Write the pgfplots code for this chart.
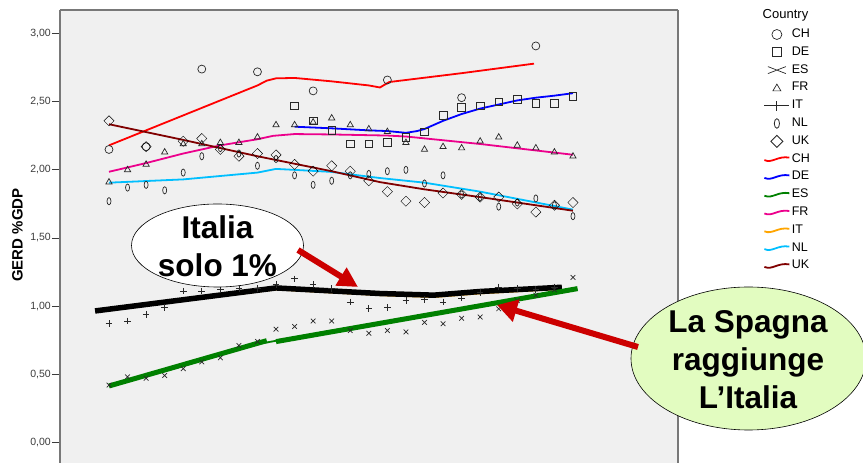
\documentclass[border=0pt]{standalone}
\usepackage{pgfplots}
\pgfplotsset{compat=1.18}
\usepackage{fontspec}
\setmainfont{Liberation Sans}
\usetikzlibrary{arrows.meta}
\definecolor{bgg}{RGB}{240,240,240}
\definecolor{framegray}{RGB}{120,120,120}
\definecolor{mk}{RGB}{40,40,40}
\definecolor{arrred}{RGB}{204,0,0}
\definecolor{eligreen}{RGB}{226,252,192}
\definecolor{nlcyan}{RGB}{0,191,255}
\definecolor{ukred}{RGB}{128,0,0}
\definecolor{esgreen}{RGB}{0,128,0}
\definecolor{itorange}{RGB}{255,165,0}
\definecolor{ticklab}{RGB}{60,60,60}
\pgfdeclareplotmark{zero}{\pgfpathellipse{\pgfpointorigin}{\pgfqpoint{2pt}{0pt}}{\pgfqpoint{0pt}{3.6pt}}\pgfusepathqstroke}
\begin{document}
\begin{tikzpicture}[x=1pt,y=1pt]
\useasboundingbox (0,0) rectangle (863,463);
\begin{axis}[
  at={(60pt,0pt)}, anchor=south west,
  width=618pt, height=453pt, scale only axis,
  xmin=-2.64, xmax=30.66, ymin=-0.1525, ymax=3.174,
  axis x line*=top, axis y line*=box,
  xtick=\empty,
  ytick={0,0.5,1,1.5,2,2.5,3},
  yticklabels={{0,00},{0,50},{1,00},{1,50},{2,00},{2,50},{3,00}},
  ytick pos=left, tick align=outside, major tick length=8pt,
  yticklabel style={font=\fontsize{10.5}{12}\selectfont, text=ticklab, inner sep=1pt},
  every tick/.style={ticklab, line width=0.8pt},
  axis line style={framegray, line width=1.5pt},
  axis background/.style={fill=bgg},
  ylabel={GERD \%GDP},
  ylabel style={at={(axis description cs:-0.0688,0.503)}, anchor=center, font=\fontsize{15}{17}\bfseries},
  clip=false,
  legend style={draw=none, fill=none, at={(axis description cs:1.138,0.966)}, anchor=north west,
    font=\fontsize{12.5}{14}\selectfont, inner sep=0pt, row sep=0pt,
    nodes={inner sep=1.5pt, text height=10.5pt, text depth=4.3pt}},
  legend cell align=left,
  scat/.style={only marks, mark options={draw=mk, line width=0.7pt, fill=none}},
  fit/.style={no marks, line width=1.8pt, line join=round,
    legend image code/.code={\draw[##1] (0pt,-1pt) .. controls (8pt,-4.5pt) and (13pt,3.5pt) .. (25pt,1.5pt);}},
]
% ---- scatter series ----
\addplot[scat, mark=o, mark size=4pt,
  legend image code/.code={\draw[mk, line width=0.7pt] (12.5pt,0pt) circle (5pt);}] coordinates {
 (0,2.15)(2,2.17)(5,2.74)(8,2.72)(11,2.58)(15,2.66)(19,2.53)(23,2.91)};
\addlegendentry{CH}
\addplot[scat, mark=square, mark size=3.85pt,
  legend image code/.code={\draw[mk, line width=0.7pt] (8pt,-4.5pt) rectangle (17pt,4.5pt);}] coordinates {
 (10,2.47)(11,2.36)(12,2.29)(13,2.19)(14,2.19)(15,2.20)(16,2.24)(17,2.28)(18,2.40)(19,2.46)(20,2.47)(21,2.50)(22,2.52)(23,2.49)(24,2.49)(25,2.54)};
\addlegendentry{DE}
\addplot[scat, mark=x, mark size=3.3pt,
  legend image code/.code={\draw[mk, line width=0.7pt] (3.5pt,-3.5pt) .. controls (10pt,-1pt) and (15pt,1pt) .. (21.5pt,3.5pt) (3.5pt,3.5pt) .. controls (10pt,1pt) and (15pt,-1pt) .. (21.5pt,-3.5pt);}] coordinates {
 (0,0.42)(1,0.48)(2,0.47)(3,0.49)(4,0.54)(5,0.59)(6,0.62)(7,0.71)(8,0.74)(9,0.83)(10,0.85)(11,0.89)(12,0.89)(13,0.82)(14,0.80)(15,0.82)(16,0.81)(17,0.88)(18,0.87)(19,0.91)(20,0.92)(21,0.98)(22,1.04)(23,1.08)(24,1.12)(25,1.21)};
\addlegendentry{ES}
\addplot[scat, mark=triangle, mark size=3.6pt,
  legend image code/.code={\draw[mk, line width=0.7pt] (8.5pt,-3pt) -- (16.5pt,-3pt) -- (12.5pt,3.8pt) -- cycle;}] coordinates {
 (0,1.91)(1,2.00)(2,2.04)(3,2.13)(4,2.19)(5,2.19)(6,2.20)(7,2.20)(8,2.24)(9,2.33)(10,2.33)(11,2.35)(12,2.38)(13,2.33)(14,2.30)(15,2.28)(16,2.20)(17,2.15)(18,2.17)(19,2.16)(20,2.21)(21,2.24)(22,2.18)(23,2.16)(24,2.13)(25,2.10)};
\addlegendentry{FR}
\addplot[scat, mark=+, mark size=3.3pt,
  legend image code/.code={\draw[mk, line width=0.9pt] (0pt,0pt) -- (25pt,0pt) (12.5pt,-5pt) -- (12.5pt,5pt);}] coordinates {
 (0,0.87)(1,0.89)(2,0.94)(3,0.99)(4,1.11)(5,1.11)(6,1.12)(7,1.13)(8,1.13)(9,1.16)(10,1.20)(11,1.16)(12,1.13)(13,1.03)(14,0.98)(15,0.99)(16,1.04)(17,1.05)(18,1.03)(19,1.06)(20,1.10)(21,1.14)(22,1.13)(23,1.12)(24,1.14)};
\addlegendentry{IT}
\addplot[scat, mark=zero,
  legend image code/.code={\draw[mk, line width=0.8pt] (12.5pt,0pt) ellipse [x radius=2.6pt, y radius=4.8pt];}] coordinates {
 (0,1.77)(1,1.87)(2,1.89)(3,1.85)(4,1.98)(5,2.10)(6,2.16)(7,2.12)(8,2.03)(9,2.08)(10,1.96)(11,1.89)(12,1.92)(13,1.96)(14,1.97)(15,1.99)(16,2.00)(17,1.90)(18,1.96)(19,1.82)(20,1.80)(21,1.73)(22,1.76)(23,1.79)(24,1.74)(25,1.66)};
\addlegendentry{NL}
\addplot[scat, mark=square, mark size=3.6pt, mark options={rotate=45},
  legend image code/.code={\draw[mk, line width=0.9pt] (6.5pt,0pt) -- (12.5pt,6pt) -- (18.5pt,0pt) -- (12.5pt,-6pt) -- cycle;}] coordinates {
 (0,2.36)(2,2.17)(4,2.21)(5,2.23)(6,2.15)(7,2.10)(8,2.12)(9,2.11)(10,2.04)(11,1.99)(12,2.03)(13,1.99)(14,1.92)(15,1.84)(16,1.77)(17,1.76)(18,1.83)(19,1.82)(20,1.80)(21,1.80)(22,1.75)(23,1.69)(24,1.74)(25,1.76)};
\addlegendentry{UK}
% ---- fit lines ----
\addplot[fit, red] coordinates {
 (0,2.18)(2,2.29)(4,2.40)(6,2.51)(8,2.62)(8.5,2.655)(9,2.672)(10,2.675)(12,2.65)(14,2.62)(14.6,2.605)(15.1,2.645)(16,2.66)(19,2.71)(22.9,2.78)};
\addlegendentry{CH}
\addplot[fit, blue] coordinates {
 (10,2.317)(12,2.305)(14,2.29)(15,2.285)(16,2.272)(16.6,2.285)(17,2.30)(18,2.36)(19,2.41)(20,2.45)(21,2.48)(22,2.51)(23,2.53)(24,2.545)(25,2.563)};
\addlegendentry{DE}
\addplot[fit, esgreen] coordinates {
 (0,0.41)(4,0.56)(8,0.72)(12,0.82)(16,0.91)(20,1.00)(25,1.12)};
\addlegendentry{ES}
\addplot[fit, magenta] coordinates {
 (0,1.986)(2,2.05)(4,2.12)(6,2.18)(8,2.225)(8.85,2.25)(10,2.263)(12,2.26)(15,2.252)(16,2.245)(20,2.19)(25,2.111)};
\addlegendentry{FR}
\addplot[fit, itorange] coordinates {
 (0,0.97)(4,1.04)(9,1.122)(14.6,1.08)(17.5,1.066)(20,1.093)(24.4,1.126)};
\addlegendentry{IT}
\addplot[fit, nlcyan] coordinates {
 (0,1.906)(4,1.93)(8,1.98)(9,2.007)(10,2.0)(12,1.985)(14,1.95)(14.6,1.94)(17,1.906)(20,1.84)(25,1.708)};
\addlegendentry{NL}
\addplot[fit, ukred] coordinates {
 (0,2.335)(4,2.22)(8,2.10)(12,1.99)(14.6,1.91)(17,1.857)(20,1.80)(25,1.70)};
\addlegendentry{UK}
% ---- highlighted trends ----
\addplot[forget plot, no marks, black, line width=5.5pt] coordinates {
 (-0.75,0.964)(9,1.133)(14.6,1.092)(17.5,1.08)(20,1.107)(24.4,1.138)};
\addplot[forget plot, no marks, esgreen, line width=5pt] coordinates {
 (0,0.413)(8.5,0.746)};
\addplot[forget plot, no marks, esgreen, line width=5pt] coordinates {
 (9,0.739)(25.25,1.128)};
\end{axis}
\node[font=\fontsize{13}{15}\selectfont, anchor=center] at (785.5,448) {Country};
% annotations
\draw[fill=white, line width=0.6pt] (217.5,217.5) ellipse [x radius=86, y radius=41.5];
\node[anchor=base, font=\fontsize{31.5}{36}\bfseries, inner sep=0pt] at (217.5,224.5) {Italia};
\node[anchor=base, font=\fontsize{31.5}{36}\bfseries, inner sep=0pt] at (217.5,186.5) {solo 1\%};
\draw[arrred, line width=6pt, -{Triangle[length=20pt,width=20pt]}] (298,213) -- (358,176);
\draw[fill=eligreen, line width=0.6pt] (748.5,104.5) ellipse [x radius=117.5, y radius=71.5];
\node[anchor=base, font=\fontsize{31.5}{36}\bfseries, inner sep=0pt] at (748,130) {La Spagna};
\node[anchor=base, font=\fontsize{31.5}{36}\bfseries, inner sep=0pt] at (748,92) {raggiunge};
\node[anchor=base, font=\fontsize{31.5}{36}\bfseries, inner sep=0pt] at (748,54) {L’Italia};
\draw[arrred, line width=6pt, -{Triangle[length=20pt,width=22pt]}] (638,116) -- (497,158);
\end{tikzpicture}
\end{document}
